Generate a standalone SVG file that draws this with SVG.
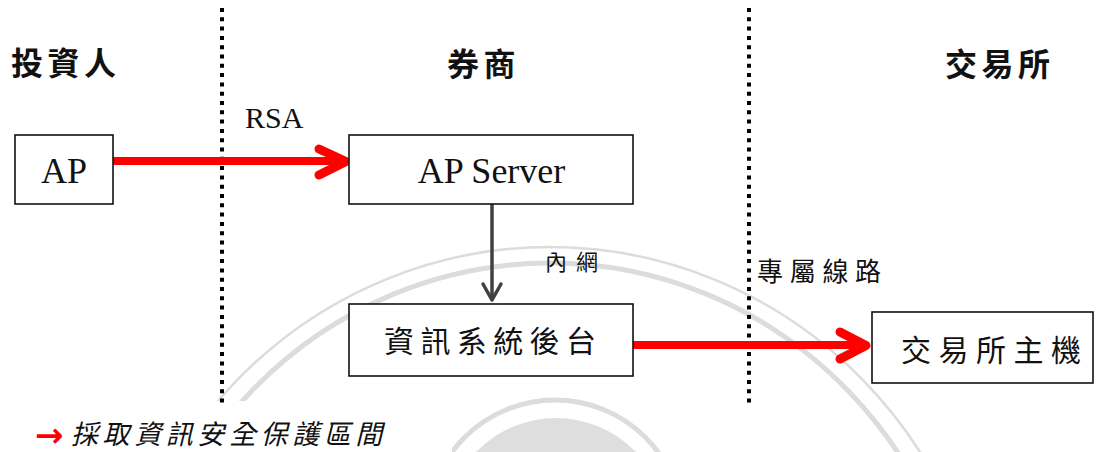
<svg xmlns="http://www.w3.org/2000/svg" width="1100" height="452" viewBox="0 0 1100 452">
  <style>
    .cjk { font-family: "Noto Sans CJK TC", "Noto Sans CJK SC", sans-serif; fill: #111; }
    .head { font-size: 32px; font-weight: bold; letter-spacing: 4.5px; }
    .latin { font-family: "Liberation Serif", "Times New Roman", serif; fill: #111; }
    .box { fill: #fff; stroke: #111; stroke-width: 1.6; }
    .divider { stroke: #000; stroke-width: 4; stroke-dasharray: 4 5.3; fill: none; }
    .red-line { stroke: #ff0000; stroke-width: 8; fill: none; }
    .red-head { stroke: #ff0000; stroke-width: 9; fill: none; stroke-linecap: round; stroke-linejoin: round; }
    .grey-line { stroke: #404040; stroke-width: 3.5; fill: none; }
    .grey-head { stroke: #404040; stroke-width: 3.5; fill: none; stroke-linecap: round; stroke-linejoin: round; }
    .seal { fill: none; stroke: #dcdcdc; }
  </style>

  <rect width="1100" height="452" fill="#fff"/>

  <!-- faint seal in the background -->
  <g id="seal">
    <ellipse class="seal" cx="550" cy="700" rx="442" ry="453" stroke-width="2.5"/>
    <ellipse class="seal" cx="550" cy="700" rx="422" ry="437" stroke-width="5"/>
    <circle class="seal" cx="555" cy="528" r="128" stroke-width="5"/>
    <circle cx="556" cy="529" r="111" fill="#dedede"/>
  </g>
  <!-- clear area under the legend -->
  <rect x="0" y="401" width="452" height="51" fill="#fff"/>

  <!-- zone dividers -->
  <g id="dividers">
    <line class="divider" x1="222" y1="8" x2="222" y2="404"/>
    <line class="divider" x1="749" y1="8" x2="749" y2="404"/>
  </g>

  <!-- zone headings -->
  <g id="headings">
    <text class="cjk head" x="11" y="75">投資人</text>
    <text class="cjk head" x="447" y="76">券商</text>
    <text class="cjk head" x="945" y="76">交易所</text>
  </g>

  <!-- connectors -->
  <g id="connectors">
    <line class="red-line" x1="113" y1="161" x2="343" y2="161"/>
    <polyline class="red-head" points="319,149 346,161.5 319,175"/>
    <line class="red-line" x1="633" y1="345" x2="863" y2="345"/>
    <polyline class="red-head" points="840,332 866,345.5 840,359"/>
    <line class="grey-line" x1="492" y1="204" x2="492" y2="299"/>
    <polyline class="grey-head" points="483,284 492,300 501,284"/>
  </g>

  <!-- connector labels -->
  <g id="labels">
    <text class="latin" x="245" y="128" font-size="30">RSA</text>
    <text class="cjk" x="545" y="269.5" font-size="22" letter-spacing="9">內網</text>
    <text class="cjk" x="757" y="280.5" font-size="26" letter-spacing="6.7">專屬線路</text>
  </g>

  <!-- nodes -->
  <g id="node-ap">
    <rect class="box" x="15" y="135" width="98" height="69"/>
    <text class="latin" x="64" y="183" font-size="36" text-anchor="middle">AP</text>
  </g>
  <g id="node-ap-server">
    <rect class="box" x="349" y="135" width="284" height="69"/>
    <text class="latin" x="491.5" y="183" font-size="36" text-anchor="middle">AP Server</text>
  </g>
  <g id="node-backend">
    <rect class="box" x="349" y="304" width="284" height="72"/>
    <text class="cjk" x="384" y="352" font-size="30" letter-spacing="6.4">資訊系統後台</text>
  </g>
  <g id="node-exchange-host">
    <rect class="box" x="872" y="312" width="221" height="71"/>
    <text class="cjk" x="901" y="361" font-size="30" letter-spacing="7.5">交易所主機</text>
  </g>

  <!-- legend -->
  <g id="legend">
    <text x="35" y="446.5" font-family="'DejaVu Sans', sans-serif" font-size="34" font-weight="bold" fill="#ff0000">→</text>
    <text class="cjk" transform="translate(71,444) skewX(-14)" x="0" y="0" font-size="27" letter-spacing="4.6">採取資訊安全保護區間</text>
  </g>
</svg>
